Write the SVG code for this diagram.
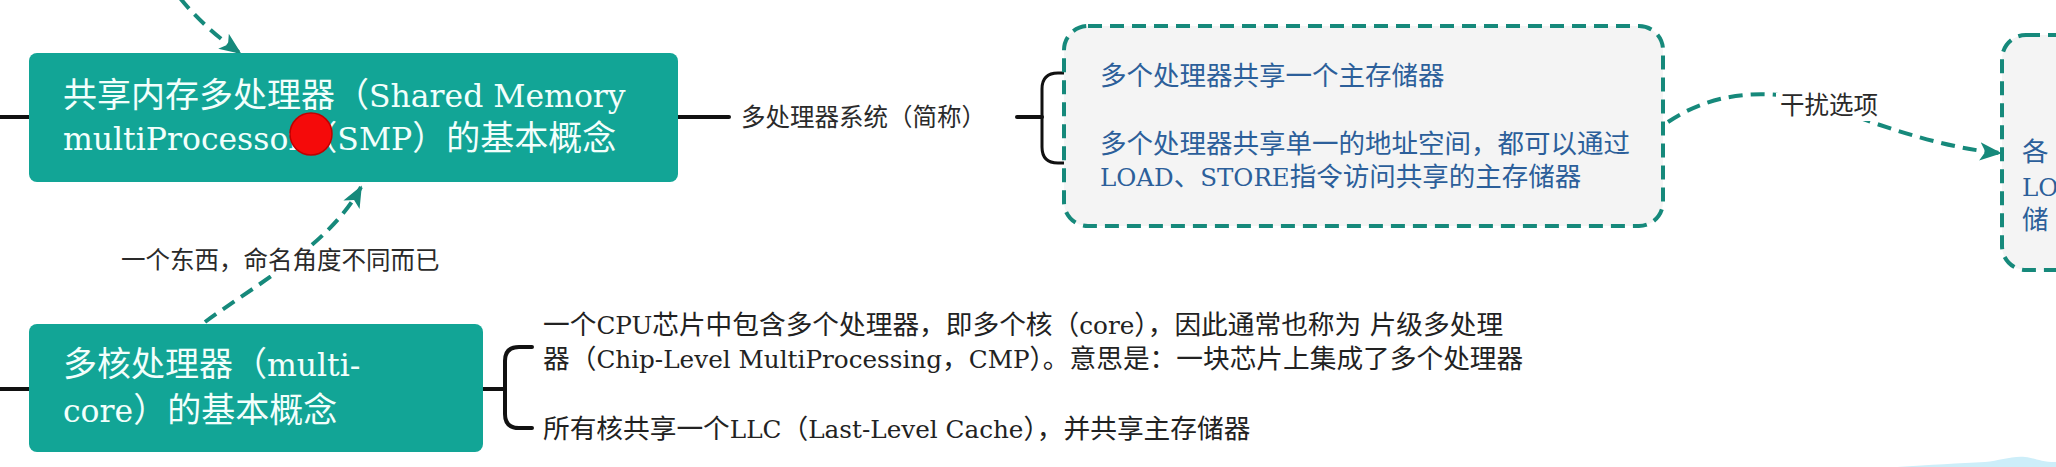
<svg xmlns="http://www.w3.org/2000/svg" width="2056" height="467" viewBox="0 0 2056 467">
<defs>
<style>
.nbox{fill:#12a596;}
.ntext{font-family:"DejaVu Serif","Noto Sans CJK SC",sans-serif;fill:#f2fffc;font-size:34px;}
.lt{font-size:92.5%;}
.btext{font-family:"DejaVu Serif","Noto Sans CJK SC",sans-serif;fill:#2c5f9a;font-size:26.5px;}
.ktext{font-family:"DejaVu Serif","Noto Sans CJK SC",sans-serif;fill:#222;font-size:26.7px;}
.label{font-family:"Noto Sans CJK SC",sans-serif;fill:#2a2a2a;font-size:24.5px;}
.solid{fill:none;stroke:#111;stroke-width:4;stroke-linecap:round;stroke-linejoin:round;}
.thin{fill:none;stroke:#111;stroke-width:3;stroke-linejoin:round;}
.dash{fill:none;stroke:#16897b;stroke-width:4;stroke-dasharray:14 8;}
.dbox{fill:#f4f4f4;stroke:#16897b;stroke-width:4;stroke-dasharray:14 8;}
.bg{fill:#ffffff;}
</style>
<marker id="ah" viewBox="0 0 12 12" refX="11" refY="6" markerWidth="5.5" markerHeight="5.5" orient="auto" markerUnits="strokeWidth">
<path d="M0,1 L12,6 L0,11 L3,6 z" fill="#16897b"/>
</marker>
</defs>

<g id="connectors">
<path class="solid" d="M0,117 H29"/>
<path class="solid" d="M0,389 H29"/>
<path class="solid" d="M678,117 H729"/>
<path class="solid" d="M1017,117 H1042"/>
<path class="thin" d="M1088,73 H1058 Q1042,73 1042,89 V147 Q1042,163 1058,163 H1088"/>
<path class="solid" d="M483,389 H505"/>
<path class="solid" d="M532,347 H519 Q505,347 505,361 V414 Q505,428 519,428 H532"/>
<path class="dash" d="M180,-2 C196,18 216,36 240,53" marker-end="url(#ah)"/>
<path class="dash" d="M205,322 C255,285 330,245 361,187" marker-end="url(#ah)"/>
<path class="dash" d="M1668,122 C1730,80 1800,95 1830,107 C1870,122 1940,148 2000,153" marker-end="url(#ah)"/>
<rect class="bg" x="117" y="247" width="326" height="28"/>
<text class="label" x="121" y="269">一个东西，命名角度不同而已</text>
<rect class="bg" x="1776" y="93" width="104" height="28"/>
<text class="label" x="1780" y="114">干扰选项</text>
<text class="label" x="741" y="126" font-size="26.5">多处理器系统（简称）</text>
</g>

<g id="node-smp">
<rect class="nbox" x="29" y="53" width="649" height="129" rx="8"/>
<text class="ntext" x="63" y="107">共享内存多处理器（<tspan class="lt">Shared Memory</tspan></text>
<text class="ntext" x="63" y="150"><tspan class="lt">multiProcessor</tspan>（<tspan class="lt">SMP</tspan>）的基本概念</text>
<circle cx="311" cy="134" r="21" fill="#f50a0a" stroke="#c00000" stroke-width="1.5"/>
</g>

<g id="node-multicore">
<rect class="nbox" x="29" y="324" width="454" height="128" rx="8"/>
<text class="ntext" x="63" y="376">多核处理器（<tspan class="lt">multi-</tspan></text>
<text class="ntext" x="63" y="422"><tspan class="lt">core</tspan>）的基本概念</text>
</g>

<g id="node-multicore-desc">
<text class="ktext" x="543" y="334">一个<tspan class="lt">CPU</tspan>芯片中包含多个处理器，即多个核（<tspan class="lt">core</tspan>），因此通常也称为 片级多处理</text>
<text class="ktext" x="543" y="368">器（<tspan class="lt">Chip-Level MultiProcessing</tspan>，<tspan class="lt">CMP</tspan>）。意思是：一块芯片上集成了多个处理器</text>
<text class="ktext" x="543" y="438">所有核共享一个<tspan class="lt">LLC</tspan>（<tspan class="lt">Last-Level Cache</tspan>），并共享主存储器</text>
</g>

<g id="node-smp-desc">
<rect class="dbox" x="1064" y="26" width="599" height="200" rx="24"/>
<text class="btext" x="1100" y="85">多个处理器共享一个主存储器</text>
<text class="btext" x="1100" y="153">多个处理器共享单一的地址空间，都可以通过</text>
<text class="btext" x="1100" y="186"><tspan class="lt">LOAD</tspan>、<tspan class="lt">STORE</tspan>指令访问共享的主存储器</text>
</g>

<g id="node-distractor">
<rect class="dbox" x="2002" y="35" width="120" height="235" rx="24"/>
<text class="btext" x="2022" y="161">各</text>
<text class="btext" x="2022" y="196"><tspan class="lt">LO</tspan></text>
<text class="btext" x="2022" y="229">储</text>
</g>

<path d="M1897,467 C1930,465 1960,463 1985,462 C2000,461 2010,456 2025,457 C2035,458 2040,462 2056,462 V467 Z" fill="#cdeef9"/>
</svg>
